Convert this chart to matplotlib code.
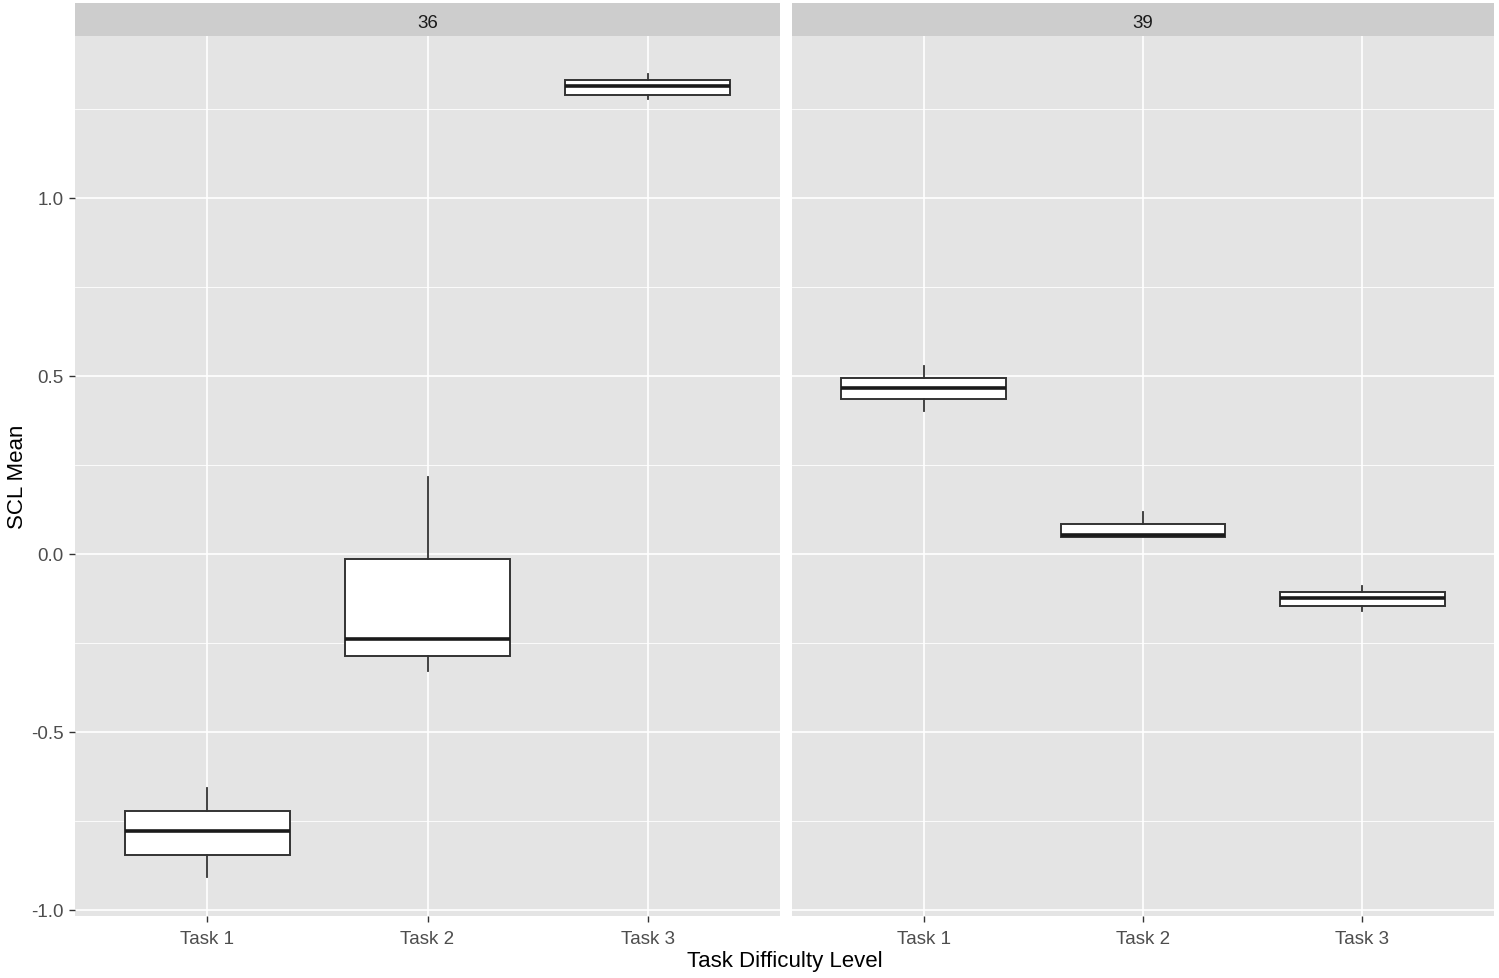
import matplotlib
matplotlib.use("Agg")
import matplotlib.pyplot as plt

plt.rcParams["font.family"] = ["Liberation Sans", "DejaVu Sans"]

# Дані (SCL Mean за рівнями складності)
tasks = ["Task 1", "Task 2", "Task 3"]
panels = ["36", "39"]

whislo = {"36": [-0.908, -0.330, 1.277], "39": [0.402, 0.049, -0.160]}
q1 = {"36": [-0.847, -0.287, 1.290], "39": [0.434, 0.049, -0.146]}
med = {"36": [-0.779, -0.239, 1.315], "39": [0.465, 0.054, -0.125]}
q3 = {"36": [-0.721, -0.013, 1.330], "39": [0.494, 0.084, -0.107]}
whishi = {"36": [-0.657, 0.217, 1.348], "39": [0.529, 0.117, -0.089]}

W, H = 1499, 979
fig = plt.figure(figsize=(W / 100, H / 100), dpi=100)

panel_bg = "#E4E4E4"
strip_bg = "#CDCDCD"
left_px = [75, 792]
width_px = [705, 702]
top_px, strip_px, bottom_px = 4, 37, 917

ymin, ymax = -1.017, 1.455

for i, p in enumerate(panels):
    x0 = left_px[i] / W
    w = width_px[i] / W
    ax = fig.add_axes([x0, 1 - bottom_px / H, w, (bottom_px - strip_px) / H])
    ax.set_facecolor(panel_bg)
    for s in ax.spines.values():
        s.set_visible(False)

    stats = []
    for j, t in enumerate(tasks):
        stats.append({"whislo": whislo[p][j], "q1": q1[p][j], "med": med[p][j],
                      "q3": q3[p][j], "whishi": whishi[p][j], "fliers": [], "label": t})
    ax.bxp(stats, positions=[1, 2, 3], widths=0.75, showcaps=False, patch_artist=True,
           boxprops=dict(facecolor="white", edgecolor="#333333", linewidth=1.4),
           medianprops=dict(color="#1A1A1A", linewidth=2.6),
           whiskerprops=dict(color="#333333", linewidth=1.3), zorder=3)

    ax.set_xlim(0.4, 3.6)
    ax.set_ylim(ymin, ymax)
    ax.set_yticks([-1.0, -0.5, 0.0, 0.5, 1.0])
    ax.set_yticks([-0.75, -0.25, 0.25, 0.75, 1.25], minor=True)
    ax.set_xticks([1, 2, 3])
    ax.set_xticklabels(tasks)
    ax.grid(True, which="major", color="white", linewidth=1.2, zorder=0)
    ax.grid(True, which="minor", axis="y", color="white", linewidth=0.6, zorder=0)
    ax.set_axisbelow(True)
    ax.tick_params(axis="both", which="major", length=4, width=1, color="#333333",
                   labelcolor="#4D4D4D", labelsize=13.5, pad=4)
    ax.tick_params(axis="x", which="major", pad=6)
    ax.tick_params(axis="both", which="minor", length=0)
    if i == 0:
        ax.set_yticklabels(["-1.0", "-0.5", "0.0", "0.5", "1.0"])
    else:
        ax.tick_params(axis="y", which="major", length=0, labelleft=False)

    # смуга з назвою панелі
    sax = fig.add_axes([x0, 1 - strip_px / H, w, (strip_px - top_px) / H])
    sax.set_facecolor(strip_bg)
    sax.set_xticks([])
    sax.set_yticks([])
    for s in sax.spines.values():
        s.set_visible(False)
    sax.text(0.5, 0.42, p, ha="center", va="center", fontsize=13.5, color="#1A1A1A",
             transform=sax.transAxes)

fig.text((75 + 1494) / 2 / W, 1 - 962 / H, "Task Difficulty Level", ha="center",
         va="center", fontsize=16, color="black")
fig.text(18 / W, 1 - (strip_px + bottom_px) / 2 / H, "SCL Mean", ha="center",
         va="center", rotation=90, fontsize=16, color="black")

fig.savefig("out.png", dpi=100)
